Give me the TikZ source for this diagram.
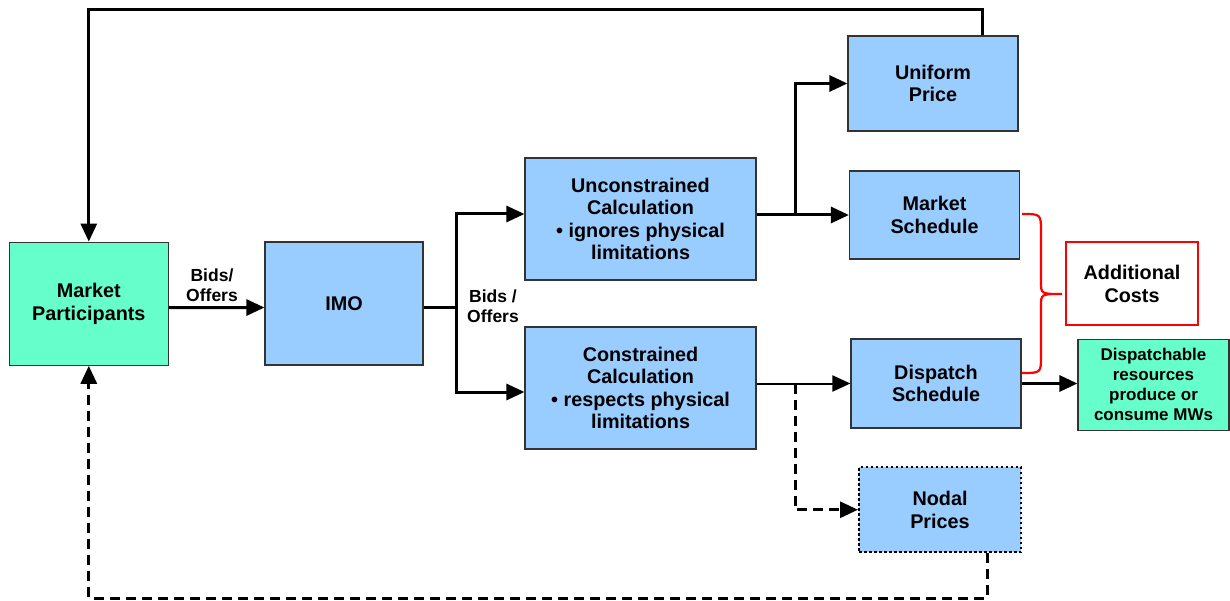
\documentclass[tikz,border=0pt]{standalone}
\usepackage{fontspec}
\setmainfont{Liberation Sans}
\usepackage{xcolor}
\definecolor{mktblue}{HTML}{99CCFF}
\definecolor{mktgreen}{HTML}{66FFCC}
\definecolor{mktedge}{HTML}{333333}
\definecolor{mktred}{HTML}{FF0000}
\usetikzlibrary{arrows.meta,calc}

\begin{document}
\begin{tikzpicture}[x=1pt, y=-1pt,
  >={Triangle[length=18pt,width=16pt]},
  bluebox/.style={draw=mktedge, line width=1.2pt, fill=mktblue, align=center, font=\bfseries\fontsize{19.8}{22.5}\selectfont, inner sep=0pt},
  greenbox/.style={draw=mktedge, line width=1.2pt, fill=mktgreen, align=center, font=\bfseries\fontsize{19.8}{22.5}\selectfont, inner sep=0pt},
  flowlabel/.style={align=center, font=\bfseries\fontsize{17.5}{19.5}\selectfont, inner sep=0pt},
  flow/.style={draw=black, line width=3pt, ->},
  thinflow/.style={draw=black, line width=2pt, ->},
  feedback/.style={draw=black, line width=3pt, dash pattern=on 10pt off 6pt, ->}]
  \useasboundingbox (0,0) rectangle (1230,601);

  %% Left: participants and IMO
  \node[greenbox, minimum width=159pt, minimum height=123pt] (mp)  at (88.8,303.7) {Market\\Participants};
  \node[bluebox,  minimum width=158pt, minimum height=123pt] (imo) at (344,303.5)  {IMO};

  %% Middle: the two calculations
  \node[bluebox, minimum width=231pt, minimum height=122pt] (unc) at (640.5,219) {Unconstrained\\Calculation\\• ignores physical\\limitations};
  \node[bluebox, minimum width=231pt, minimum height=122pt] (con) at (640.5,388) {Constrained\\Calculation\\• respects physical\\limitations};

  %% Right: results
  \node[bluebox, minimum width=170pt, minimum height=95pt] (up) at (933,83.5)   {Uniform\\Price};
  \node[bluebox, minimum width=170pt, minimum height=88pt] (ms) at (934.5,215)  {Market\\Schedule};
  \node[bluebox, minimum width=170pt, minimum height=89pt] (ds) at (936,383.5)  {Dispatch\\Schedule};
  \node[bluebox, minimum width=162pt, minimum height=85pt, draw=black, line width=2pt, dash pattern=on 2.5pt off 2.5pt] (np) at (940,509.75) {Nodal\\Prices};
  \node[draw=mktred, line width=2.5pt, fill=white, minimum width=132pt, minimum height=83pt, align=center, font=\bfseries\fontsize{19.8}{23}\selectfont, inner sep=0pt] (ac) at (1132,283.5) {Additional\\Costs};
  \node[greenbox, minimum width=151pt, minimum height=91pt, font=\bfseries\fontsize{17}{20}\selectfont] (dr) at (1153.5,384.75) {Dispatchable\\resources\\produce or\\consume MWs};

  %% Labels on the bids
  \node[flowlabel] (bids1) at (212,285) {Bids/\\Offers};
  \node[flowlabel] (bids2) at (493,306) {Bids /\\Offers};

  %% Connectors
  \coordinate (split) at (456,307.5);
  \coordinate (ua) at (456,214);
  \coordinate (ca) at (456,392);
  \coordinate (ub) at (795,215);
  \coordinate (cb) at (795,383.5);
  \coordinate (topr) at (982,9.5);
  \coordinate (botr) at (987,598);

  \draw[flow] ($(mp.east)+(0,4)$) -- ($(imo.west)+(0,4)$);
  \draw[flow, -] (imo.east |- split) -- (split);
  \draw[flow] (split) -- (ua) -- (ua -| unc.west);
  \draw[flow] (split) -- (ca) -- (ca -| con.west);
  \draw[flow] (unc.east |- ms.west) -- (ms.west);
  \draw[flow] (ub) |- (up.west);
  \draw[thinflow] (con.east |- ds.west) -- (ds.west);
  \draw[feedback] (cb) |- (np.west);
  \draw[flow] (ds.east) -- (dr.west |- ds.east);
  \draw[flow] (up.north -| topr) -- (topr) -| (mp.north);
  \draw[feedback] (np.south -| botr) -- (botr) -| (mp.south);

  %% Brace to the extra costs
  \draw[mktred, line width=2.2pt] (1022,214) .. controls (1041,214) .. (1041,232) -- (1041,282)
    .. controls (1041,294) .. (1062,294) .. controls (1041,294) .. (1041,306) -- (1041,356)
    .. controls (1041,373) .. (1022,373);
\end{tikzpicture}
\end{document}
